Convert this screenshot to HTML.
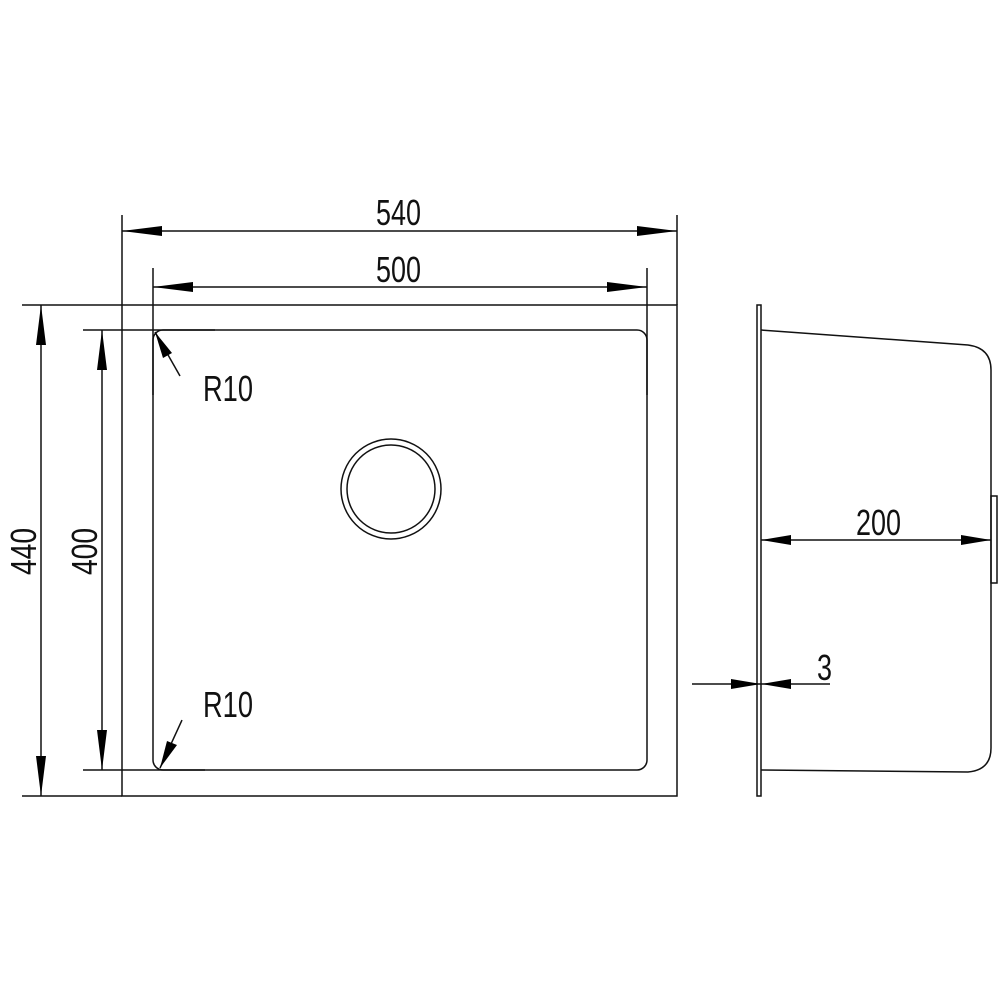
<!DOCTYPE html>
<html><head><meta charset="utf-8"><style>html,body{margin:0;padding:0;background:#fff}svg{display:block}</style></head>
<body>
<svg width="1000" height="1000" viewBox="0 0 1000 1000" xmlns="http://www.w3.org/2000/svg">
<g fill="none" stroke="#111" stroke-width="1.5">
<rect x="122" y="305" width="555" height="491"/>
<rect x="153" y="330" width="494" height="440" rx="10"/>
<circle cx="391" cy="489" r="50"/>
<circle cx="391" cy="489" r="44"/>
<line x1="122" y1="215" x2="122" y2="305"/>
<line x1="677" y1="215" x2="677" y2="305"/>
<line x1="153" y1="268" x2="153" y2="395"/>
<line x1="647" y1="268" x2="647" y2="395"/>
<line x1="22" y1="305" x2="122" y2="305"/>
<line x1="22" y1="796" x2="122" y2="796"/>
<line x1="83" y1="330" x2="215" y2="330"/>
<line x1="83" y1="770" x2="205" y2="770"/>
<line x1="122" y1="231" x2="677" y2="231"/>
<line x1="153" y1="287" x2="647" y2="287"/>
<line x1="41" y1="305" x2="41" y2="796"/>
<line x1="102" y1="330" x2="102" y2="770"/>
<line x1="155" y1="332" x2="180" y2="376"/>
<line x1="160" y1="768" x2="182" y2="720"/>
<rect x="757" y="305" width="4" height="491"/>
<path d="M761 330 L968 345 Q991 348 991 370 L991 748 Q991 770 968 772 L761 770"/>
<rect x="991" y="496" width="6" height="87"/>
<line x1="761" y1="540" x2="991" y2="540"/>
<line x1="692" y1="684" x2="830" y2="684"/>
</g>
<g fill="#000">
<polygon points="122,231 162,226 162,236"/>
<polygon points="677,231 637,226 637,236"/>
<polygon points="153,287 193,282 193,292"/>
<polygon points="647,287 607,282 607,292"/>
<polygon points="41,305 36,345 46,345"/>
<polygon points="41,796 36,756 46,756"/>
<polygon points="102,330 97,370 107,370"/>
<polygon points="102,770 97,730 107,730"/>
<polygon points="155,332 163,358 172,353"/>
<polygon points="160,768 167,741 177,745"/>
<polygon points="761,540 791,535 791,545"/>
<polygon points="991,540 961,535 961,545"/>
<polygon points="761,684 731,679 731,689"/>
<polygon points="761,684 791,679 791,689"/>
</g>
<g font-family="'Liberation Sans', sans-serif" font-size="36" fill="#111">
<text x="376" y="225" textLength="45" lengthAdjust="spacingAndGlyphs">540</text>
<text x="376" y="282" textLength="45" lengthAdjust="spacingAndGlyphs">500</text>
<text x="203" y="401" textLength="50" lengthAdjust="spacingAndGlyphs">R10</text>
<text x="203" y="717" textLength="50" lengthAdjust="spacingAndGlyphs">R10</text>
<text x="856" y="535" textLength="45" lengthAdjust="spacingAndGlyphs">200</text>
<text x="817" y="680" textLength="15" lengthAdjust="spacingAndGlyphs">3</text>
<text transform="translate(36,575) rotate(-90)" textLength="47" lengthAdjust="spacingAndGlyphs">440</text>
<text transform="translate(97,575) rotate(-90)" textLength="47" lengthAdjust="spacingAndGlyphs">400</text>
</g>
</svg>
</body></html>
